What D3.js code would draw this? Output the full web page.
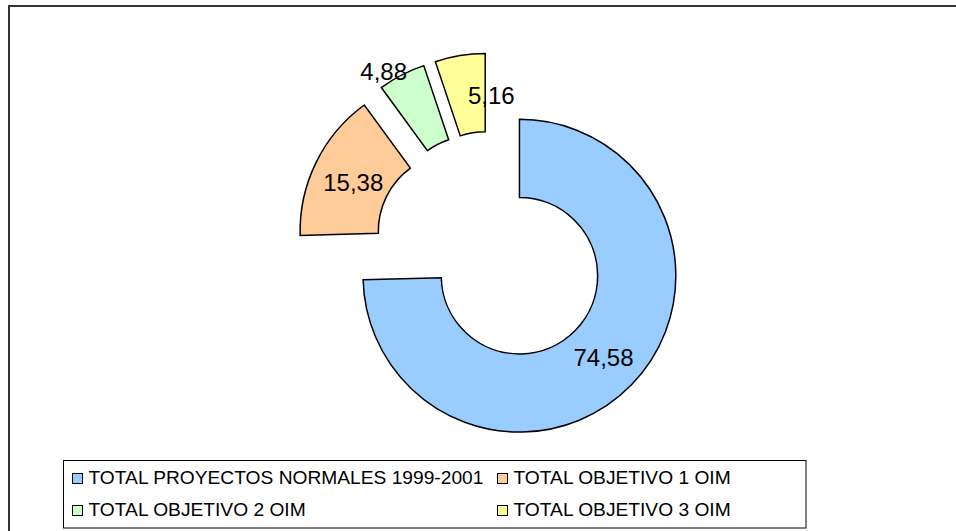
<!DOCTYPE html>
<html>
<head>
<meta charset="utf-8">
<script src="https://cdn.jsdelivr.net/npm/d3@7"></script>
<style>
  body { margin: 0; background: #fff; }
  svg { display: block; font-family: "Liberation Sans", Arial, sans-serif; }
</style>
</head>
<body>
<svg id="chart" width="956" height="531"></svg>
<script>
var categories = ["TOTAL PROYECTOS NORMALES 1999-2001", "TOTAL OBJETIVO 1 OIM", "TOTAL OBJETIVO 2 OIM", "TOTAL OBJETIVO 3 OIM"];
var values = [74.58, 15.38, 4.88, 5.16];
var labels = ["74,58", "15,38", "4,88", "5,16"];
var colors = ["#99CCFF", "#FFCC99", "#CCFFCC", "#FFFF99"];

var svg = d3.select("#chart");

// outer chart frame (right and bottom fall outside the picture)
svg.append("rect")
	.attr("x", 9).attr("y", 6)
	.attr("width", 960).attr("height", 540)
	.style("fill", "none")
	.style("stroke", "#333")
	.style("stroke-width", 2);

var cx = 491.5, cy = 248.5;
var outerR = 156.4, innerR = 78.2;
var explode = 39;

var pie = d3.pie().sort(null).value(function(d) { return d; });
var arc = d3.arc().innerRadius(innerR).outerRadius(outerR);
var arcs = pie(values);

// Excel moved a couple of labels off the slice centre
var labelNudge = [[0, 0], [2, 3], [-36, -38], [25, 1]];

var g = svg.append("g").attr("transform", "translate(" + cx + "," + cy + ")");

var slice = g.selectAll(".slice")
	.data(arcs)
	.enter()
	.append("g")
	.attr("class", "slice")
	.attr("transform", function(d) {
		var a = (d.startAngle + d.endAngle) / 2;
		return "translate(" + (Math.sin(a) * explode) + "," + (-Math.cos(a) * explode) + ")";
	});

slice.append("path")
	.attr("d", arc)
	.style("fill", function(d, i) { return colors[i]; })
	.style("stroke", "#000")
	.style("stroke-width", 1.5)
	.style("stroke-linejoin", "miter");

slice.append("text")
	.attr("transform", function(d, i) {
		var c = arc.centroid(d);
		return "translate(" + (c[0] + labelNudge[i][0]) + "," + (c[1] + labelNudge[i][1]) + ")";
	})
	.attr("text-anchor", "middle")
	.attr("dy", "0.35em")
	.style("font-size", "24px")
	.style("fill", "#000")
	.text(function(d, i) { return labels[i]; });

// legend
var legend = svg.append("g");
legend.append("rect")
	.attr("x", 63.5).attr("y", 460.5)
	.attr("width", 742.5).attr("height", 67.5)
	.style("fill", "#fff")
	.style("stroke", "#000")
	.style("stroke-width", 1);

var colX = [72, 497], rowY = [473, 505];

var item = legend.selectAll(".item")
	.data(categories)
	.enter()
	.append("g")
	.attr("class", "item")
	.attr("transform", function(d, i) {
		return "translate(" + colX[i % 2] + "," + rowY[Math.floor(i / 2)] + ")";
	});

item.append("rect")
	.attr("x", 0.5).attr("y", 0.5)
	.attr("width", 10).attr("height", 10)
	.style("fill", function(d, i) { return colors[i]; })
	.style("stroke", "#000")
	.style("stroke-width", 1);

item.append("text")
	.attr("x", 16.5)
	.attr("y", 10.5)
	.style("font-size", "19.2px")
	.style("fill", "#000")
	.text(function(d) { return d; });
</script>
</body>
</html>
